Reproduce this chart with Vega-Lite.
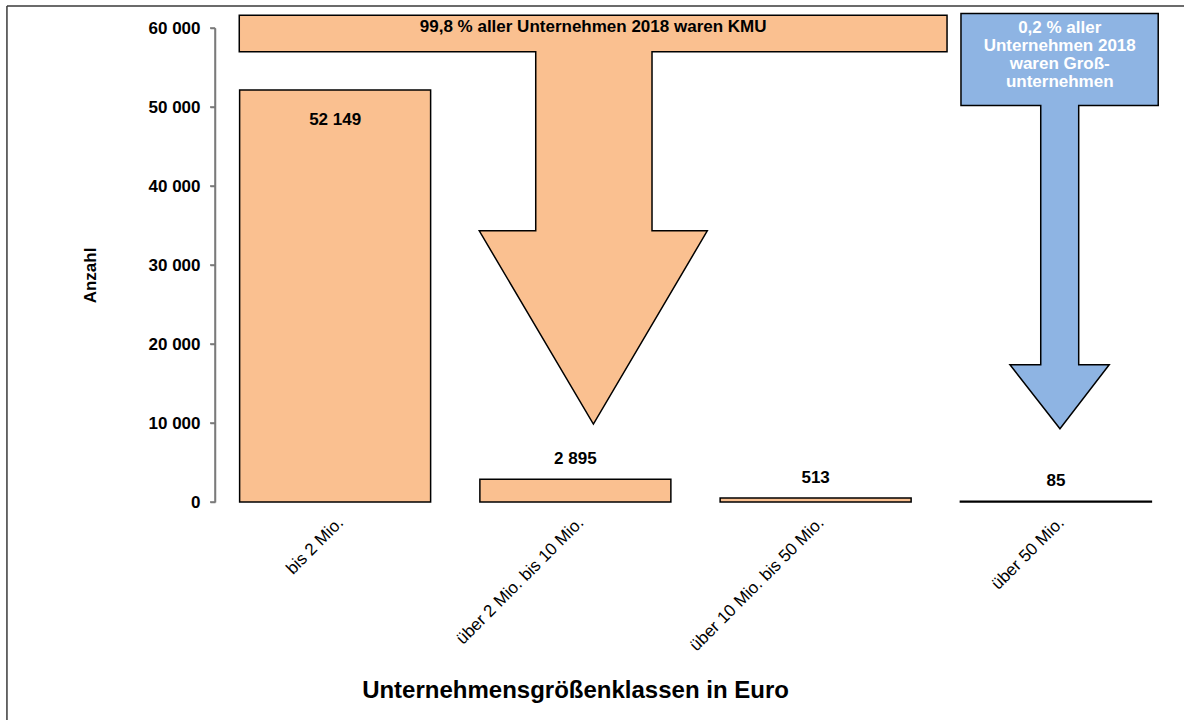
{
  "$schema": "https://vega.github.io/schema/vega-lite/v6.json",
  "width": 961,
  "height": 474,
  "autosize": {"type": "none"},
  "padding": {"left": 215, "top": 28, "right": 8, "bottom": 218},
  "background": "white",
  "config": {
    "view": {"stroke": null},
    "font": "Liberation Sans",
    "locale": {"number": {"decimal": ",", "thousands": " ", "grouping": [3], "currency": ["", " €"]}}
  },
  "datasets": {
    "bars": [
      {"klasse": "bis 2 Mio.", "anzahl": 52149},
      {"klasse": "über 2 Mio. bis 10 Mio.", "anzahl": 2895},
      {"klasse": "über 10 Mio. bis 50 Mio.", "anzahl": 513},
      {"klasse": "über 50 Mio.", "anzahl": 85}
    ],
    "yticks": [
      {"v": 0}, {"v": 10000}, {"v": 20000}, {"v": 30000}, {"v": 40000}, {"v": 50000}, {"v": 60000}
    ],
    "arrows": [
      {"pfeil": "KMU", "i": 1, "x": 0.101, "y": 61607},
      {"pfeil": "KMU", "i": 2, "x": 3.047, "y": 61607},
      {"pfeil": "KMU", "i": 3, "x": 3.047, "y": 56990},
      {"pfeil": "KMU", "i": 4, "x": 1.819, "y": 56990},
      {"pfeil": "KMU", "i": 5, "x": 1.819, "y": 34320},
      {"pfeil": "KMU", "i": 6, "x": 2.049, "y": 34320},
      {"pfeil": "KMU", "i": 7, "x": 1.575, "y": 9867},
      {"pfeil": "KMU", "i": 8, "x": 1.100, "y": 34320},
      {"pfeil": "KMU", "i": 9, "x": 1.335, "y": 34320},
      {"pfeil": "KMU", "i": 10, "x": 1.335, "y": 56990},
      {"pfeil": "KMU", "i": 11, "x": 0.101, "y": 56990},
      {"pfeil": "GU", "i": 1, "x": 3.105, "y": 61820},
      {"pfeil": "GU", "i": 2, "x": 3.926, "y": 61820},
      {"pfeil": "GU", "i": 3, "x": 3.926, "y": 50183},
      {"pfeil": "GU", "i": 4, "x": 3.595, "y": 50183},
      {"pfeil": "GU", "i": 5, "x": 3.595, "y": 17369},
      {"pfeil": "GU", "i": 6, "x": 3.722, "y": 17369},
      {"pfeil": "GU", "i": 7, "x": 3.517, "y": 9273},
      {"pfeil": "GU", "i": 8, "x": 3.309, "y": 17369},
      {"pfeil": "GU", "i": 9, "x": 3.437, "y": 17369},
      {"pfeil": "GU", "i": 10, "x": 3.437, "y": 50183},
      {"pfeil": "GU", "i": 11, "x": 3.105, "y": 50183}
    ]
  },
  "layer": [
    {
      "data": {"name": "bars"},
      "encoding": {
        "x": {
          "field": "klasse", "type": "nominal", "sort": null,
          "scale": {"paddingInner": 0.205, "paddingOuter": 0.1025},
          "axis": {
            "title": "Unternehmensgrößenklassen in Euro",
            "labelAngle": -45, "labelAlign": "right", "labelBaseline": "top",
            "labelFontSize": 17, "labelColor": "black", "labelPadding": 12, "labelLimit": 300,
            "ticks": false, "domain": false,
            "titleFontSize": 24, "titleFontWeight": "bold", "titleColor": "black",
            "titleX": 360, "titleY": 188, "titleBaseline": "middle", "titleAlign": "center"
          }
        },
        "y": {
          "field": "anzahl", "type": "quantitative",
          "scale": {"domain": [0, 60000], "nice": false},
          "axis": {
            "title": "Anzahl",
            "values": [0, 10000, 20000, 30000, 40000, 50000, 60000],
            "format": ",d",
            "grid": false,
            "domain": true, "ticks": true,
            "labelFontSize": 17, "labelFontWeight": "bold", "labelColor": "black", "labelPadding": 10,
            "tickSize": 5, "tickWidth": 1.5, "tickColor": "#7a7a7a",
            "domainColor": "#7a7a7a", "domainWidth": 1.5,
            "zindex": 2,
            "titleFontSize": 17, "titleFontWeight": "bold", "titleColor": "black",
            "titleX": -125, "titleY": 247, "titleBaseline": "middle", "titleAngle": -90, "titleAlign": "center"
          }
        }
      },
      "layer": [
        {"mark": {"type": "bar", "fill": "#FAC090", "stroke": "black", "strokeWidth": 1.5}},
        {
          "transform": [{"filter": "datum.anzahl > 10000"}],
          "mark": {"type": "text", "dy": 35, "baseline": "alphabetic", "fontWeight": "bold", "fontSize": 17, "color": "black"},
          "encoding": {"text": {"field": "anzahl", "type": "quantitative", "format": ",d"}}
        },
        {
          "transform": [{"filter": "datum.anzahl <= 10000"}],
          "mark": {"type": "text", "dy": -15, "baseline": "alphabetic", "fontWeight": "bold", "fontSize": 17, "color": "black"},
          "encoding": {"text": {"field": "anzahl", "type": "quantitative", "format": ",d"}}
        }
      ]
    },
    {
      "layer": [
        {
          "data": {"name": "arrows"},
          "transform": [{"filter": "datum.pfeil == 'KMU'"}],
          "mark": {"type": "line", "interpolate": "linear-closed", "fill": "#FAC090", "stroke": "black", "strokeWidth": 1.5, "strokeJoin": "miter"},
          "encoding": {
            "x": {"field": "x", "type": "quantitative", "scale": {"domain": [0, 4], "nice": false, "zero": false}, "axis": null},
            "y": {"field": "y", "type": "quantitative", "scale": {"domain": [0, 60000], "nice": false}, "axis": null},
            "order": {"field": "i", "type": "quantitative"}
          }
        },
        {
          "data": {"name": "arrows"},
          "transform": [{"filter": "datum.pfeil == 'GU'"}],
          "mark": {"type": "line", "interpolate": "linear-closed", "fill": "#8EB4E3", "stroke": "black", "strokeWidth": 1.5, "strokeJoin": "miter"},
          "encoding": {
            "x": {"field": "x", "type": "quantitative", "axis": null},
            "y": {"field": "y", "type": "quantitative", "axis": null},
            "order": {"field": "i", "type": "quantitative"}
          }
        },
        {
          "data": {"values": [{}]},
          "mark": {"type": "rule", "color": "#7a7a7a", "strokeWidth": 1.5},
          "encoding": {
            "x": {"datum": 0, "type": "quantitative", "axis": null},
            "y": {"datum": 0, "type": "quantitative", "axis": null},
            "y2": {"datum": 60000}
          }
        },
        {
          "data": {"name": "yticks"},
          "mark": {"type": "rule", "color": "#7a7a7a", "strokeWidth": 1.5},
          "encoding": {
            "x": {"datum": -0.0208, "type": "quantitative", "axis": null},
            "x2": {"datum": 0},
            "y": {"field": "v", "type": "quantitative", "axis": null}
          }
        },
        {
          "data": {"values": [{}]},
          "mark": {"type": "text", "baseline": "alphabetic", "align": "center", "fontWeight": "bold", "fontSize": 17, "color": "black"},
          "encoding": {
            "x": {"datum": 1.574, "type": "quantitative", "axis": null},
            "y": {"datum": 59490, "type": "quantitative", "axis": null},
            "text": {"value": "99,8 % aller Unternehmen 2018 waren KMU"}
          }
        },
        {
          "data": {"values": [{}]},
          "mark": {"type": "text", "baseline": "alphabetic", "align": "center", "fontWeight": "bold", "fontSize": 17, "lineHeight": 18, "color": "white"},
          "encoding": {
            "x": {"datum": 3.516, "type": "quantitative", "axis": null},
            "y": {"datum": 59367, "type": "quantitative", "axis": null},
            "text": {"value": ["0,2 % aller", "Unternehmen 2018", "waren Groß-", "unternehmen"]}
          }
        },
        {
          "data": {"values": [{}]},
          "mark": {"type": "rule", "color": "#3a3a3a", "strokeWidth": 1.5},
          "encoding": {
            "x": {"datum": -0.866, "type": "quantitative", "axis": null},
            "x2": {"datum": 4.2},
            "y": {"datum": 62785, "type": "quantitative", "axis": null}
          }
        },
        {
          "data": {"values": [{}]},
          "mark": {"type": "rule", "color": "#3a3a3a", "strokeWidth": 1.5},
          "encoding": {
            "x": {"datum": -0.866, "type": "quantitative", "axis": null},
            "y": {"datum": -30000, "type": "quantitative", "axis": null},
            "y2": {"datum": 62785}
          }
        }
      ]
    }
  ],
  "resolve": {"scale": {"x": "independent"}, "axis": {"x": "independent", "y": "independent"}}
}
